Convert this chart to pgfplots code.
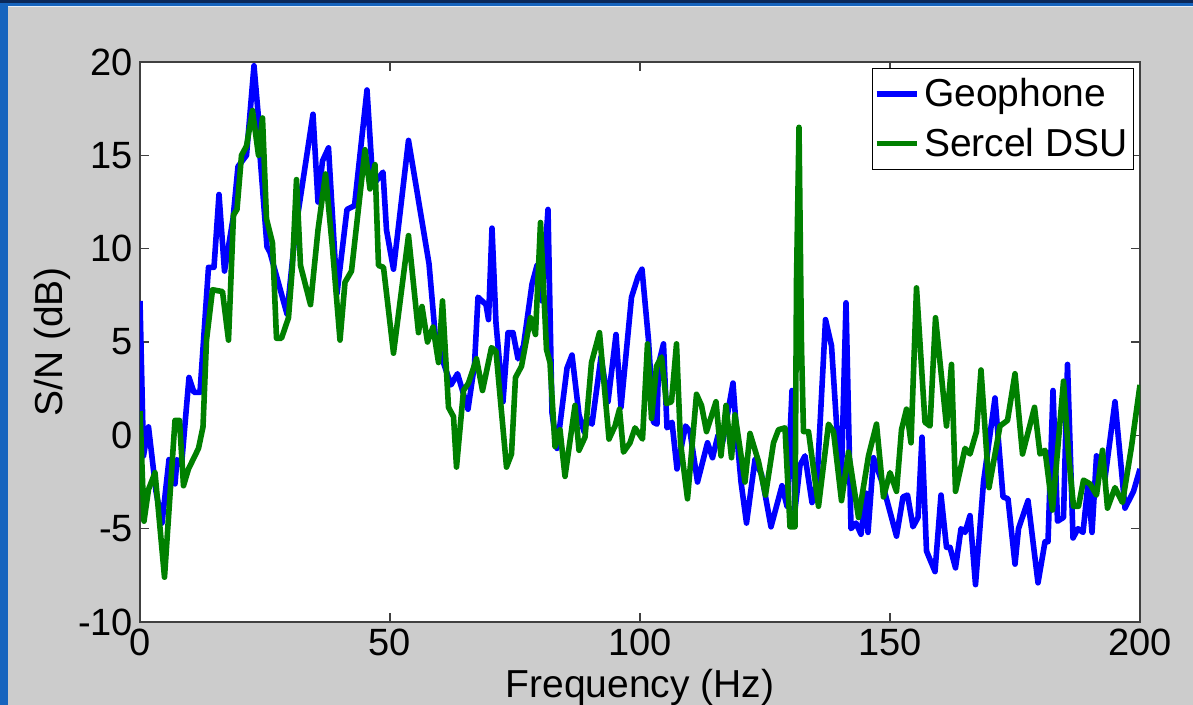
\documentclass[border=0pt]{standalone}
\usepackage{fontspec}
\setmainfont{Liberation Sans}
\usepackage{pgfplots}
\pgfplotsset{compat=1.18}
\definecolor{figgray}{RGB}{204,204,204}
\definecolor{mgreen}{RGB}{0,128,0}
\definecolor{slideblue}{RGB}{22,100,190}
\definecolor{slidenavy}{RGB}{10,40,90}
\begin{document}
\begin{tikzpicture}
\useasboundingbox (0pt,0pt) rectangle (596.5pt,352.5pt);
\fill[figgray] (0pt,0pt) rectangle (596.5pt,352.5pt);
\fill[slideblue] (0pt,0pt) rectangle (4pt,352.5pt);
\fill[slidenavy] (0pt,351pt) rectangle (596.5pt,352.5pt);
\fill[slideblue] (0pt,349.6pt) rectangle (596.5pt,351pt);
\fill[white!90!slideblue] (4pt,349.1pt) rectangle (596.5pt,349.6pt);
\begin{axis}[
  at={(70pt,41.5pt)}, anchor=south west,
  width=500pt, height=280pt, scale only axis,
  xmin=0, xmax=200, ymin=-10, ymax=20,
  xtick={0,50,100,150,200}, ytick={-10,-5,0,5,10,15,20},
  tick align=inside, major tick length=4.5pt,
  axis line style={black!75, line width=0.9pt},
  tick style={black!75, line width=0.6pt},
  axis background/.style={fill=white},
  ticklabel style={font=\fontsize{19}{21}\selectfont},
  /pgf/number format/assume math mode=true,
  xlabel={Frequency (Hz)}, ylabel={S/N (dB)},
  label style={font=\fontsize{19.5}{22}\selectfont},
  xlabel style={at={(axis description cs:0.5,-0.134)}, anchor=base},
  ylabel style={at={(axis description cs:-0.088,0.5)}, anchor=center},
  legend style={at={(1,1)}, anchor=north east, xshift=-3pt, yshift=-3pt,
    font=\fontsize{19.5}{22}\selectfont, draw=black, line width=0.6pt,
    fill=white, inner sep=0.5pt, row sep=0pt,
    nodes={inner xsep=2.3pt, inner ysep=4.5pt}},
  legend cell align=left,
  legend image code/.code={\draw[#1] (0pt,0pt) -- (20pt,0pt);},
  every axis plot/.append style={line width=2.8pt, line join=round},
]
\addplot[color=blue] coordinates {
(0,7.2) (0.7,-1.1) (1.7,0.45) (3.2,-3.0) (4.4,-4.7) (5.8,-1.3) (7.0,-2.6) (7.4,-1.3) (8.3,-1.6) (9.8,3.1)
(10.8,2.3) (12.0,2.3) (13.7,9.0) (14.8,9.0) (15.8,12.9) (16.9,8.8) (18.6,11.6) (19.6,14.4) (21.3,15.0) (22.8,19.8)
(23.7,17.0) (24.0,15.0) (25.4,10.1) (26.0,9.8) (29.4,6.5) (31.1,11.0) (34.6,17.2) (35.6,12.5) (36.5,14.7) (37.7,15.4)
(39.4,7.6) (41.4,12.1) (42.9,12.3) (45.4,18.5) (46.6,13.4) (48.6,14.1) (49.3,11.0) (50.7,8.9) (53.7,15.8) (57.8,9.2)
(59.1,5.2) (60.8,3.8) (62.2,2.7) (63.5,3.3) (65.6,1.4) (66.9,3.8) (67.6,7.4) (69.2,7.0) (69.7,6.2) (70.4,11.1)
(71.2,6.0) (72.6,1.8) (73.6,5.5) (74.6,5.5) (75.6,4.1) (76.7,4.8) (78.4,8.1) (79.4,9.1) (80.4,7.2) (81.6,12.1)
(82.4,1.2) (83.4,-0.7) (85.4,3.6) (86.4,4.3) (87.8,1.1) (88.8,0.2) (89.4,0.9) (90.4,0.6) (92.2,4.2) (93.6,1.8)
(95.2,5.4) (96.2,1.5) (98.3,7.4) (99.6,8.5) (100.4,8.9) (101.7,5.1) (102.7,0.7) (103.4,0.6) (103.7,3.8) (104.7,4.9)
(105.4,0.4) (106.4,0.7) (107.4,-1.8) (109.1,0.5) (110.0,0.2) (111.5,-2.5) (113.5,-0.4) (114.5,-1.2) (115.6,0.0) (116.5,-0.4)
(118.6,2.8) (119.3,0.2) (120.2,-2.5) (121.3,-4.7) (123.0,-1.3) (124.3,-2.1) (126.2,-4.9) (128.4,-2.7) (129.4,-3.8) (130.4,2.4)
(131.0,-4.0) (132.0,-1.6) (133.0,-1.1) (134.4,-3.6) (135.4,-2.5) (137.1,6.2) (138.3,4.8) (140.2,-3.1) (141.2,7.1) (142.2,-5.0)
(143.2,-4.7) (144.2,-5.3) (145.2,-3.1) (145.6,-5.2) (146.7,-1.2) (148.4,-2.5) (149.0,-3.1) (151.3,-5.4) (152.6,-3.3) (153.5,-3.2)
(154.6,-4.9) (155.6,-4.4) (156.4,-0.1) (157.3,-6.2) (159.0,-7.3) (160.2,-3.2) (161.3,-6.0) (162.0,-6.0) (163.1,-7.1) (164.2,-5.0)
(165.0,-5.2) (166.0,-4.3) (167.1,-8.0) (168.7,-2.5) (171.0,2.0) (172.6,-3.3) (173.6,-3.4) (175.0,-6.9) (175.7,-5.0) (177.6,-3.5)
(179.6,-7.9) (181.0,-5.7) (181.6,-5.7) (182.6,2.4) (183.5,-4.6) (184.7,-4.4) (185.5,3.8) (186.6,-5.5) (187.6,-5.0) (188.6,-5.2)
(189.6,-2.6) (190.4,-5.2) (191.3,-1.1) (193.0,-2.3) (195.0,1.8) (197.0,-3.9) (198.7,-3.0) (200,-1.8)
};
\addlegendentry{Geophone}
\addplot[color=mgreen] coordinates {
(0,1.3) (0.8,-4.6) (1.7,-2.9) (3.0,-2.0) (4.9,-7.6) (6.5,-1.2) (7.0,0.8) (7.9,0.8) (8.7,-2.7) (9.7,-1.8)
(11.7,-0.7) (12.6,0.45) (13.3,5.1) (14.5,7.8) (16.5,7.7) (17.7,5.1) (18.7,11.8) (19.4,12.1) (20.3,15.0) (21.3,15.5)
(22.5,17.4) (23.7,15.0) (24.5,17.0) (25.3,11.6) (26.5,10.3) (27.3,5.2) (28.3,5.2) (29.7,6.3) (30.5,9.1) (31.3,13.7)
(32.1,9.1) (34.1,7.0) (35.6,11.0) (37.1,14.0) (38.5,10.0) (40.0,5.1) (41.0,8.2) (42.3,8.8) (45.0,15.3) (46.0,13.2)
(47.0,14.5) (47.7,9.1) (48.7,9.0) (50.7,4.4) (53.7,10.7) (55.7,5.5) (56.4,6.9) (57.5,5.0) (58.6,5.8) (59.7,3.9)
(60.5,7.2) (61.7,1.5) (62.7,1.0) (63.3,-1.7) (64.7,2.4) (65.7,2.8) (67.3,4.1) (68.5,2.4) (70.3,4.7) (71.2,4.5)
(73.3,-1.7) (74.3,-1.0) (75.1,3.1) (76.3,3.7) (78.1,6.3) (79.1,5.4) (80.1,11.4) (81.3,4.6) (82.0,3.9) (83.0,-0.6)
(84.0,0.3) (85.0,-2.2) (87.0,1.6) (87.8,-0.8) (89.0,-0.1) (90.3,3.9) (91.9,5.5) (93.8,-0.2) (95.0,0.5) (95.9,1.4)
(96.7,-0.9) (98.0,-0.4) (99.0,0.4) (100.5,-0.2) (101.5,4.9) (102.3,0.9) (103.3,3.7) (104.3,4.2) (105.3,1.7) (106.3,1.8)
(107.3,4.9) (108.1,-0.4) (109.5,-3.4) (111.3,2.2) (112.3,1.6) (113.3,0.2) (115.2,1.8) (116.2,-1.1) (117.2,1.6) (118.3,-1.2)
(119.0,1.1) (121.0,-2.5) (122.0,0.1) (123.7,-1.4) (125.1,-3.2) (126.7,-0.4) (127.7,0.3) (129.0,0.4) (130.0,-4.9) (131.0,-4.9)
(131.3,8.3) (131.8,16.5) (132.3,4.7) (132.7,0.2) (133.7,0.2) (135.7,-3.8) (137.7,0.6) (138.7,0.2) (140.3,-3.5) (141.7,-0.9)
(143.7,-4.4) (145.7,-1.1) (147.3,0.6) (148.7,-3.3) (150.0,-2.0) (151.3,-3.0) (152.3,0.3) (153.3,1.4) (154.2,-0.4) (155.3,7.9)
(157.0,0.7) (158.0,0.5) (159.1,6.3) (161.3,0.5) (162.3,3.8) (163.1,-3.0) (165.0,-0.7) (166.0,-1.0) (167.3,0.2) (168.2,3.5)
(169.8,-2.8) (172.0,0.5) (173.5,0.8) (175.0,3.3) (176.5,-1.0) (178.9,1.5) (180.0,-1.0) (181.0,-0.8) (182.5,-4.0) (184.7,2.9)
(185.7,-1.0) (186.7,-3.8) (187.7,-3.8) (188.7,-2.4) (190.0,-2.6) (191.3,-3.2) (192.5,-0.8) (193.5,-3.9) (195.0,-2.8) (196.5,-3.6)
(198.3,-0.6) (200,2.7)
};
\addlegendentry{Sercel DSU}
\end{axis}
\end{tikzpicture}
\end{document}
